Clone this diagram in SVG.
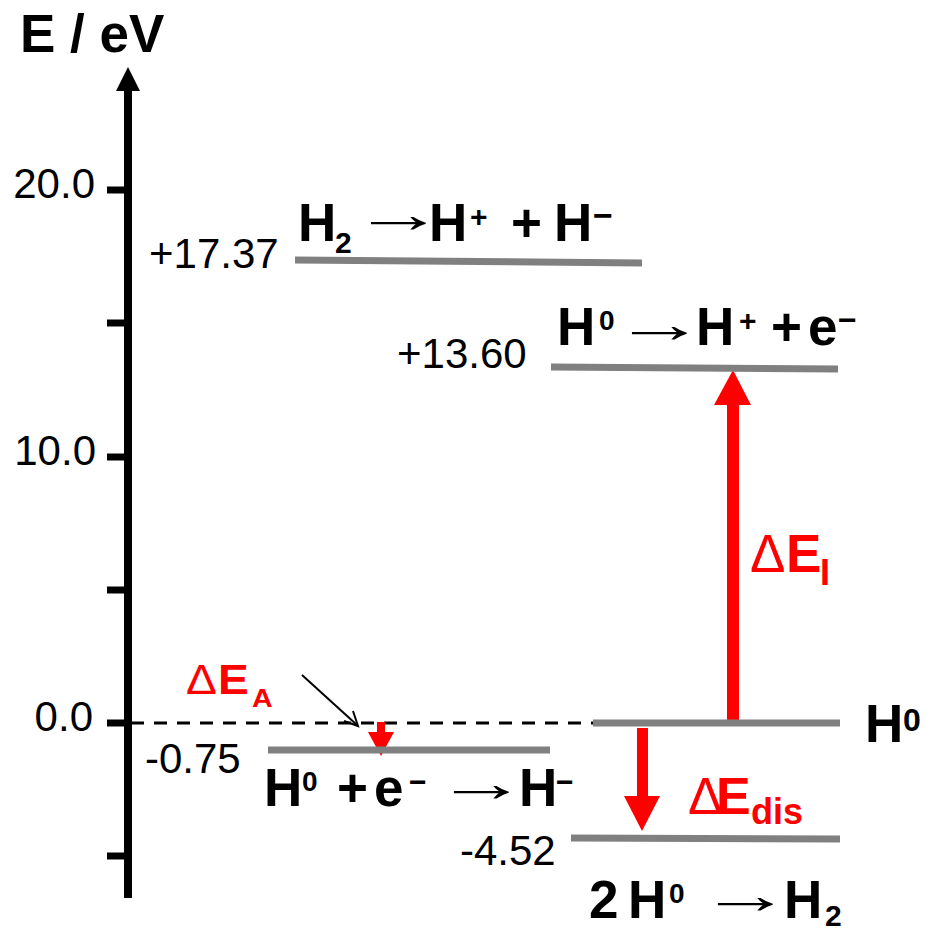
<svg xmlns="http://www.w3.org/2000/svg" width="927" height="929" viewBox="0 0 927 929">
<style>
text{font-family:"Liberation Sans",Arial,sans-serif;}
.lbl{font-size:53px;font-weight:bold;fill:#000;}
.num{font-size:42px;fill:#000;}
.arr{font-size:53px;font-weight:normal;fill:#000;}
.lvl{stroke:#808080;stroke-width:7;fill:none;}
.tick{stroke:#000;stroke-width:7;}
.red{fill:#ff0000;}
.rt{fill:#ff0000;font-weight:bold;}
.dl{font-weight:normal;}
</style>
<rect width="927" height="929" fill="#fff"/>
<g id="axis">
<line x1="128" y1="88" x2="128" y2="898" stroke="#000" stroke-width="8"/>
<polygon points="128,67 116,91 140,91" fill="#000"/>
<line class="tick" x1="107" y1="190" x2="128" y2="190"/>
<line class="tick" x1="107" y1="323" x2="128" y2="323"/>
<line class="tick" x1="107" y1="457" x2="128" y2="457"/>
<line class="tick" x1="107" y1="590" x2="128" y2="590"/>
<line class="tick" x1="107" y1="723" x2="128" y2="723"/>
<line class="tick" x1="107" y1="856" x2="128" y2="856"/>
<text class="num" x="95" y="198" text-anchor="end">20.0</text>
<text class="num" x="96" y="465" text-anchor="end">10.0</text>
<text class="num" x="93" y="731" text-anchor="end">0.0</text>
<text x="20" y="52" font-size="53" font-weight="bold">E / eV</text>
</g>
<g id="connectors">
<line x1="131" y1="723" x2="593" y2="723" stroke="#000" stroke-width="3" stroke-dasharray="13 10"/>
<line x1="302" y1="675" x2="357" y2="725" stroke="#000" stroke-width="2"/>
<polyline points="344,721 358,726 353,711" fill="none" stroke="#000" stroke-width="2"/>
<g id="arrow-I">
<rect class="red" x="727" y="400" width="12" height="323"/>
<polygon class="red" points="733,370 714,405 751,405"/>
</g>
<g id="arrow-dis">
<rect class="red" x="637" y="728" width="11" height="70"/>
<polygon class="red" points="642,831 624,796 660,796"/>
</g>
<g id="arrow-A">
<rect class="red" x="377" y="722" width="8" height="12"/>
<polygon class="red" points="381,756 368,732 394,732"/>
</g>
</g>
<g id="level-h2-ionpair">
<line class="lvl" x1="295" y1="260" x2="642" y2="263"/>
<text class="num" x="149" y="268">+17.37</text>
<text class="lbl" y="241"><tspan x="298">H</tspan><tspan x="335" y="253" font-size="30">2</tspan><tspan x="429" y="241">H</tspan><tspan x="470" y="227" font-size="30">+</tspan><tspan x="511" y="241">+</tspan><tspan x="554">H</tspan><tspan x="593" y="227" font-size="34">−</tspan></text>
<text class="arr" transform="translate(352,232) scale(1.75,1)">→</text>
</g>
<g id="level-ionization">
<line class="lvl" x1="551" y1="367" x2="838" y2="369"/>
<text class="num" x="397" y="368">+13.60</text>
<text class="lbl" y="345"><tspan x="557">H</tspan><tspan x="599" y="330" font-size="28">0</tspan><tspan x="696" y="345">H</tspan><tspan x="739" y="331" font-size="30">+</tspan><tspan x="771" y="345">+</tspan><tspan x="808">e</tspan><tspan x="838" y="331" font-size="32">−</tspan></text>
<text class="arr" transform="translate(613,342) scale(1.75,1)">→</text>
</g>
<g id="level-h0">
<line class="lvl" x1="593" y1="723" x2="840" y2="723"/>
<text class="lbl" y="742"><tspan x="865">H</tspan><tspan x="903" y="731" font-size="32">0</tspan></text>
</g>
<g id="level-affinity">
<line class="lvl" x1="268" y1="750" x2="550" y2="750"/>
<text class="num" x="145" y="773">-0.75</text>
<text class="lbl" y="806"><tspan x="264">H</tspan><tspan x="302" y="791" font-size="28">0</tspan><tspan x="337" y="806">+</tspan><tspan x="374">e</tspan><tspan x="409" y="792" font-size="30">−</tspan><tspan x="519" y="806">H</tspan><tspan x="556" y="792" font-size="30">−</tspan></text>
<text class="arr" transform="translate(435,801) scale(1.75,1)">→</text>
</g>
<g id="level-dissociation">
<line class="lvl" x1="571" y1="838" x2="840" y2="839"/>
<text class="num" x="460" y="865">-4.52</text>
<text class="lbl" y="918"><tspan x="589">2</tspan><tspan x="628">H</tspan><tspan x="669" y="903" font-size="28">0</tspan><tspan x="784" y="918">H</tspan><tspan x="825" y="926" font-size="30">2</tspan></text>
<text class="arr" transform="translate(699,913) scale(1.75,1)">→</text>
</g>
<g id="label-EA">
<text class="rt" transform="translate(186,694) scale(1.1,1)" font-size="42"><tspan class="dl" x="0" y="0">Δ</tspan><tspan x="29" y="0">E</tspan><tspan x="60" y="13" font-size="26">A</tspan></text>
</g>
<g id="label-EI">
<text class="rt" font-size="53" y="572"><tspan class="dl" x="750">Δ</tspan><tspan x="786">E</tspan><tspan x="820" y="585" font-size="36">I</tspan></text>
</g>
<g id="label-Edis">
<text class="rt" font-size="52" y="814"><tspan class="dl" x="688">Δ</tspan><tspan x="716">E</tspan><tspan x="751" y="824" font-size="36">dis</tspan></text>
</g>
</svg>
